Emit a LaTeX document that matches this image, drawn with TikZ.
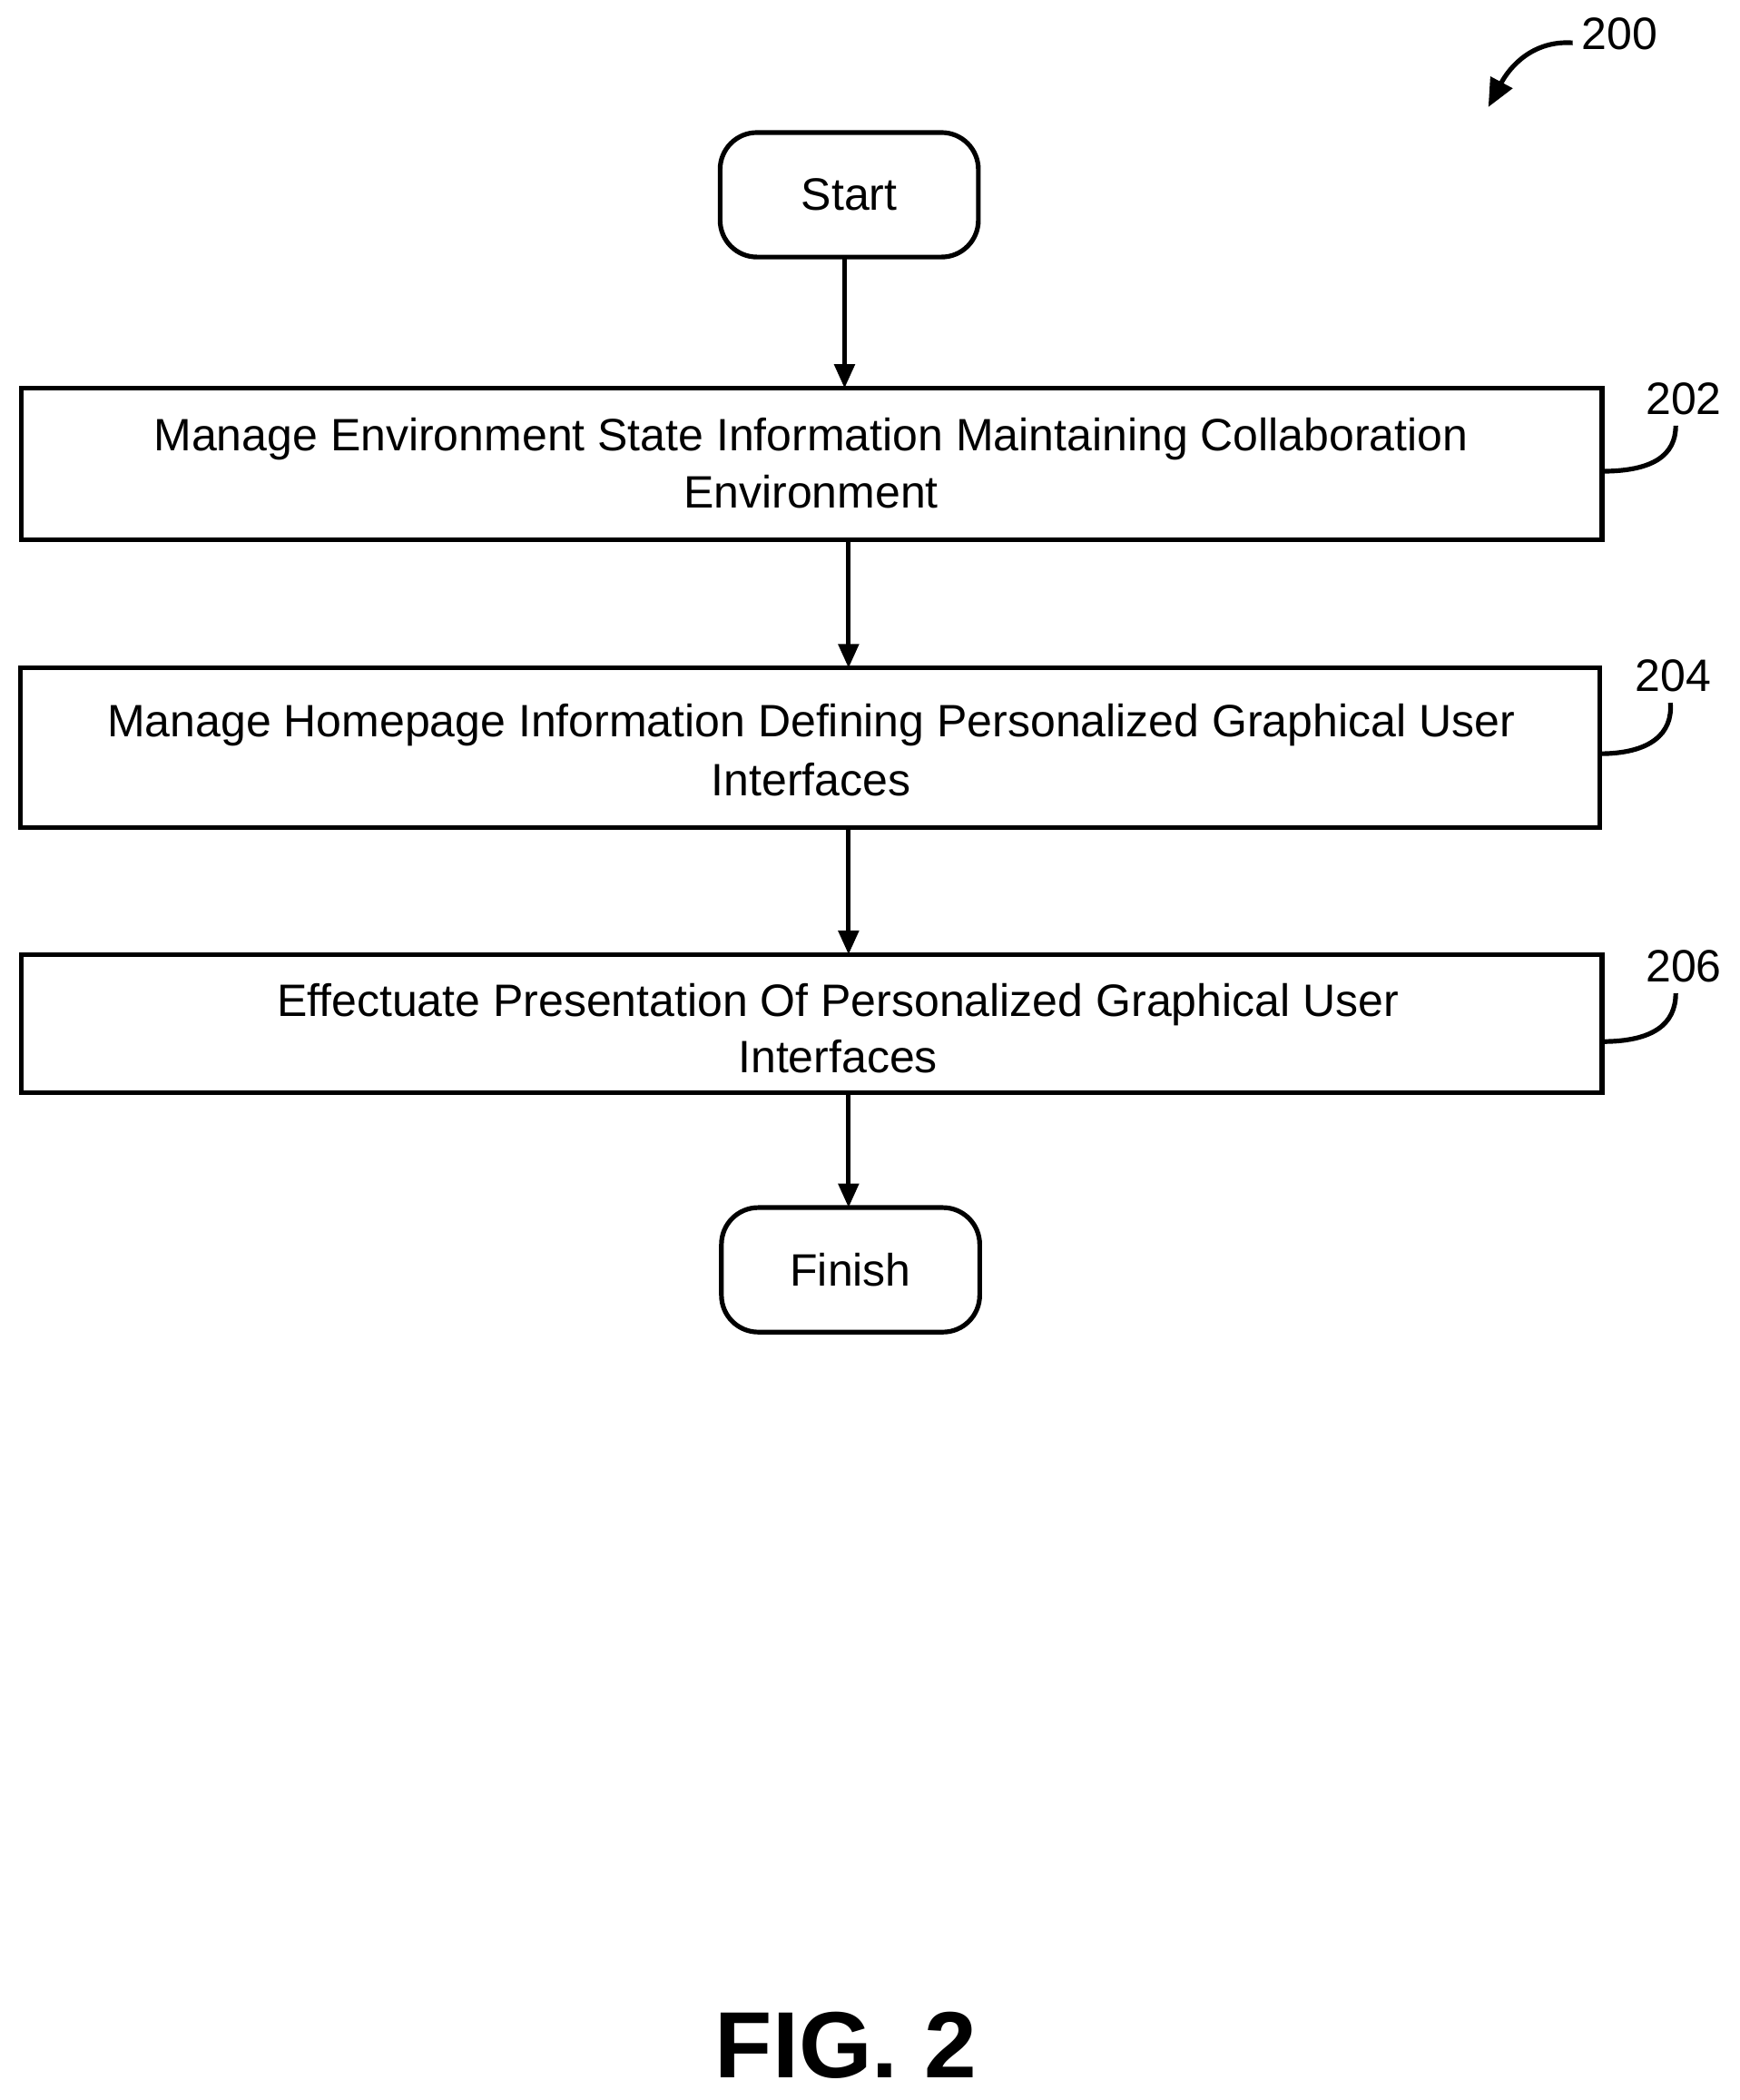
\documentclass[tikz,border=0pt]{standalone}
\usepackage{fontspec}
\setmainfont{Liberation Sans}
\usetikzlibrary{arrows.meta}
\begin{document}
\begin{tikzpicture}[x=0.02cm,y=-0.02cm,
  box/.style={draw,line width=2pt,inner sep=0pt},
  term/.style={draw,line width=2pt,rounded corners=0.55cm,minimum width=3.86cm,minimum height=1.86cm,font=\fontsize{19.3}{22}\selectfont},
  txt/.style={font=\fontsize{19.3}{22}\selectfont,align=center},
  arr/.style={line width=2pt,-{Triangle[length=0.36cm,width=0.3cm]}},
  lead/.style={line width=2pt}]
\useasboundingbox (0,0) rectangle (1300,1568.6);
\node[term] (start) at (634.5,145.5) {Start};
\draw[box] (16,290) rectangle (1197,403);
\node[txt] (t202) at (606,346) {Manage Environment State Information Maintaining Collaboration\\[2pt]Environment};
\coordinate (b202t) at (631,290); \coordinate (b202b) at (634,403);
\draw[box] (15,499) rectangle (1195,618);
\node[txt] (t204) at (606,560) {Manage Homepage Information Defining Personalized Graphical User\\[3pt]Interfaces};
\coordinate (b204t) at (634,499); \coordinate (b204b) at (634,618);
\draw[box] (16,713) rectangle (1197,816);
\node[txt] (t206) at (626,768) {Effectuate Presentation Of Personalized Graphical User\\[2pt]Interfaces};
\coordinate (b206t) at (634,713); \coordinate (b206b) at (634,816);
\node[term] (finish) at (635.5,948.5) {Finish};
\draw[arr] (631,192) -- (b202t);
\draw[arr] (b202b) -- (b204t);
\draw[arr] (b204b) -- (b206t);
\draw[arr] (b206b) -- (634,902);
\node[txt] (l202) at (1258,298) {202};
\node[txt] (l204) at (1250,505) {204};
\node[txt] (l206) at (1258,722) {206};
\node[txt] (l200) at (1210,25) {200};
\coordinate (c202) at (1197,352); \coordinate (c204) at (1195,563); \coordinate (c206) at (1197,778);
\draw[lead] (c202) .. controls (1235,352) and (1252,340) .. (1252,318);
\draw[lead] (c204) .. controls (1233,563) and (1250,548) .. (1248,525);
\draw[lead] (c206) .. controls (1235,778) and (1252,765) .. (1252,742);
\draw[line width=2pt,-{Triangle[length=0.42cm,width=0.36cm]}] (1175,32) .. controls (1145,30) and (1128,50) .. (1112,80);
\node[font=\fontsize{40}{48}\selectfont\bfseries] (fig) at (632,1528) {FIG. 2};
\end{tikzpicture}
\end{document}
